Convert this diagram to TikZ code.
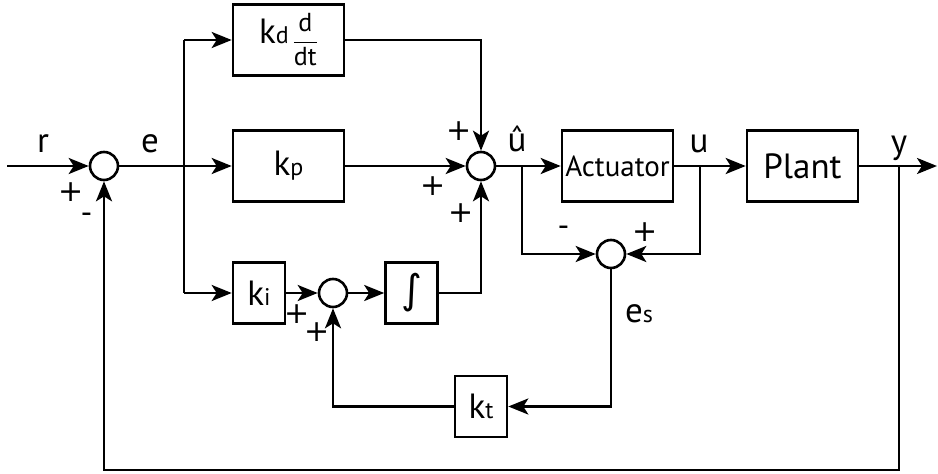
\documentclass[tikz,border=0pt]{standalone}
\usepackage{fontspec}
\setmainfont{PT Sans}
\newfontfamily\symfont{DejaVu Sans}
\usetikzlibrary{arrows.meta}
\newcommand\subtx[1]{{\fontsize{24}{26}\selectfont #1}}
\newcommand\fractx[1]{{\fontsize{26}{28}\selectfont #1}}
\begin{document}
\begin{tikzpicture}[x=1pt,y=-1pt, line width=2.6pt,
  font=\fontsize{35}{37}\selectfont,
  blk/.style={draw, rectangle, inner sep=0pt},
  bigblk/.style={blk, minimum width=111pt, minimum height=71pt},
  smallblk/.style={blk, minimum width=52pt, minimum height=61pt},
  sumc/.style={draw, circle, minimum size=28pt, inner sep=0pt},
  lbl/.style={inner sep=0pt},
  sgn/.style={inner sep=0pt, font=\symfont\fontsize{30}{32}\selectfont},
  arr/.style={-{Stealth[length=20pt,width=16pt,inset=5pt]}}]
\useasboundingbox (0,0) rectangle (938,474);

% blocks
\node[sumc] (s1) at (104,166) {};
\node[bigblk] (kd) at (288.5,40) {k\subtx{d}\hspace{4pt}\raisebox{-5pt}{$\displaystyle\frac{\hbox{\fractx{d}}}{\hbox{\fractx{dt}}}$}};
\node[bigblk] (kp) at (288.5,166) {k\subtx{p}};
\node[sumc] (s2) at (481,166) {};
\node[bigblk] (act) at (617.5,166) {\fontsize{29}{31}\selectfont Actuator};
\node[bigblk] (plant) at (802.5,166) {Plant};
\node[smallblk] (ki) at (259,293) {k\subtx{i}};
\node[sumc] (s4) at (333,293) {};
\node[smallblk] (int) at (411.5,293) {\raisebox{2pt}{\symfont\fontsize{40}{42}\selectfont ∫}};
\node[smallblk] (kt) at (481,406.5) {k\subtx{t}};
\node[sumc] (s3) at (611,254) {};

% helper points
\coordinate (in) at (7,166);
\coordinate (out) at (937,166);
\coordinate (bd) at (184,40);
\coordinate (bi) at (184,293);
\coordinate (uh) at (522,166);
\coordinate (uu) at (700,166);
\coordinate (yb) at (899,166);
\coordinate (fb) at (899,470);

% connectors
\draw[arr] (in) -- (s1);
\draw[arr] (s1) -- (kp);
\draw (bd) -- (bi);
\draw[arr] (bd) -- (kd);
\draw[arr] (bi) -- (ki);
\draw[arr] (kd) -| (s2);
\draw[arr] (kp) -- (s2);
\draw[arr] (int) -| (s2);
\draw[arr] (ki) -- (s4);
\draw[arr] (s4) -- (int);
\draw[arr] (s2) -- (act);
\draw[arr] (act) -- (plant);
\draw[arr] (plant) -- (out);
\draw[arr] (uh) |- (s3);
\draw[arr] (uu) |- (s3);
\draw[arr] (s3) |- (kt);
\draw[arr] (kt) -| (s4);
\draw[arr] (yb) -- (fb) -| (s1);

% labels
\node[lbl] (lr) at (43,144) {r};
\node[lbl] (le) at (150,144) {e};
\node[lbl] (luh) at (517,139) {û};
\node[lbl] (lu) at (699,144) {u};
\node[lbl, anchor=base] (ly) at (899,153) {y};
\node[lbl] (les) at (639,314) {e\subtx{s}};
\node[sgn] (p1) at (71,192) {+};
\node[sgn] (m1) at (87,218) {-};
\node[sgn] (p2a) at (459,131) {+};
\node[sgn] (p2b) at (433,186) {+};
\node[sgn] (p2c) at (461,213) {+};
\node[sgn] (m3) at (564,231) {-};
\node[sgn] (p3) at (645,232) {+};
\node[sgn] (p4a) at (297,314) {+};
\node[sgn] (p4b) at (317,332) {+};
\end{tikzpicture}
\end{document}
